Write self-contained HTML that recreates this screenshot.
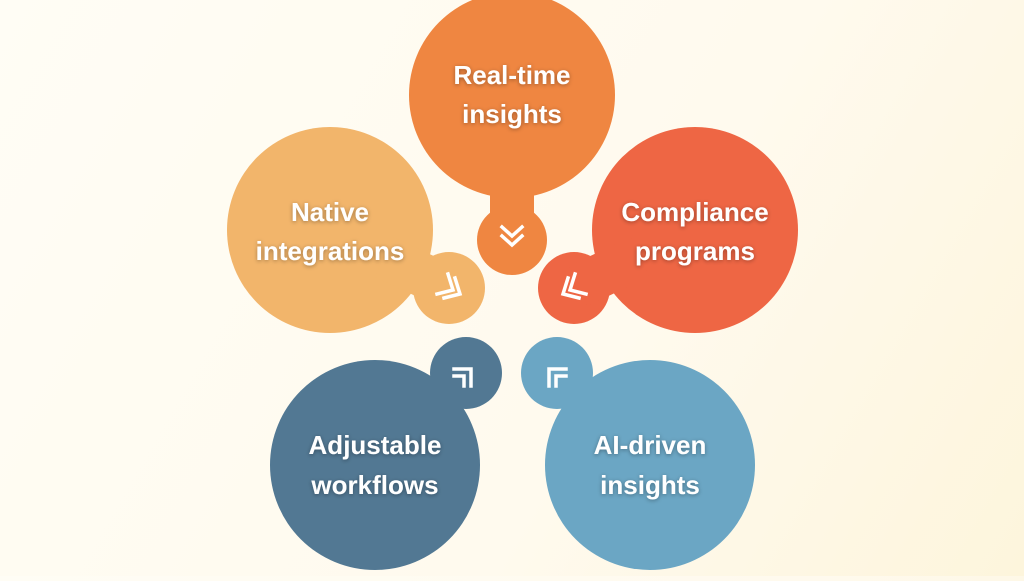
<!DOCTYPE html>
<html><head><style>
html,body{margin:0;padding:0}
body{width:1024px;height:576px;overflow:hidden;background:linear-gradient(120deg,#fffdf5 0%,#fffaee 60%,#fdf5dc 100%)}
svg text{font-family:"Liberation Sans",sans-serif;font-weight:bold;font-size:26px;fill:#fff;text-anchor:middle}
</style></head><body>
<svg width="1024" height="576" xmlns="http://www.w3.org/2000/svg">
<defs><filter id="s" x="-20%" y="-20%" width="140%" height="140%"><feDropShadow dx="0" dy="1" stdDeviation="2" flood-color="#000" flood-opacity="0.35"/></filter></defs>
<g fill="#EF8641" stroke="#EF8641"><circle cx="512" cy="95" r="103" stroke="none"/><circle cx="512" cy="240" r="35" stroke="none"/><line x1="512" y1="150" x2="512" y2="235" stroke-width="44"/></g>
<g fill="#EE6644" stroke="#EE6644"><circle cx="695" cy="230" r="103" stroke="none"/><circle cx="574" cy="288" r="36" stroke="none"/><line x1="640" y1="257" x2="578" y2="286" stroke-width="44"/></g>
<g fill="#F2B56B" stroke="#F2B56B"><circle cx="330" cy="230" r="103" stroke="none"/><circle cx="449" cy="288" r="36" stroke="none"/><line x1="384" y1="257" x2="446" y2="286" stroke-width="44"/></g>
<g fill="#527893" stroke="#527893"><circle cx="375" cy="465" r="105" stroke="none"/><circle cx="466" cy="373" r="36" stroke="none"/><line x1="420" y1="420" x2="463" y2="377" stroke-width="44"/></g>
<g fill="#6BA6C4" stroke="#6BA6C4"><circle cx="650" cy="465" r="105" stroke="none"/><circle cx="557" cy="373" r="36" stroke="none"/><line x1="605" y1="420" x2="560" y2="377" stroke-width="44"/></g>
<g stroke="#fff" stroke-width="3.5" fill="none" stroke-linecap="square">
<path d="M502 227 L512 236 L522 227 M502 236 L512 245 L522 236"/>
<path d="M571 278 L566 294 L582 298 M578 274 L573 290 L589 294" transform="translate(-3,0)"/>
<path d="M452 278 L457 294 L441 298 M445 274 L450 290 L434 294" transform="translate(3,0)"/>
<path d="M456 369 L473 369 L473 386 M456 376 L466 376 L466 386" transform="translate(-2,0)"/>
<path d="M567 369 L550 369 L550 386 M567 376 L557 376 L557 386" transform="translate(-1,0)"/>
</g>
<g filter="url(#s)">
<text x="512" y="84">Real-time</text><text x="512" y="123">insights</text>
<text x="695" y="221">Compliance</text><text x="695" y="260">programs</text>
<text x="330" y="221">Native</text><text x="330" y="260">integrations</text>
<text x="375" y="454">Adjustable</text><text x="375" y="494">workflows</text>
<text x="650" y="454">AI-driven</text><text x="650" y="494">insights</text>
</g>
</svg>
</body></html>
